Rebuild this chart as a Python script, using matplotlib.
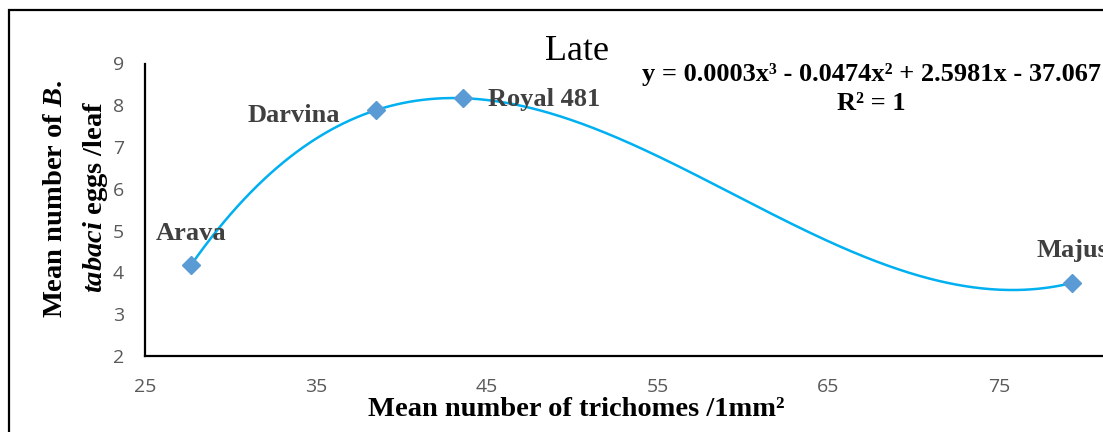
import numpy as np
import matplotlib
matplotlib.use("Agg")
import matplotlib.pyplot as plt
from matplotlib.patches import Rectangle

# Data
varieties = ["Arava", "Darvina", "Royal 481", "Majus"]
trichomes = [27.7, 38.5, 43.6, 79.3]
eggs = [4.18, 7.88, 8.17, 3.75]
x_ticks = [25, 35, 45, 55, 65, 75]
y_ticks = [2, 3, 4, 5, 6, 7, 8, 9]
title = "Late"
equation = "y = 0.0003x³ - 0.0474x² + 2.5981x - 37.067"
r2_text = "R² = 1"

W, H = 1103, 432
fig = plt.figure(figsize=(W / 100, H / 100), dpi=100)

# outer border (cropped at right/bottom)
fig.patches.append(Rectangle((9 / W, -0.1), 1.2, (H - 10) / H + 0.1,
                             transform=fig.transFigure, fill=False,
                             edgecolor="black", linewidth=1.6))

ax_left, ax_bottom_px, ax_top_px = 145, 356, 63.5
ax = fig.add_axes([ax_left / W, (H - ax_bottom_px) / H,
                   (W - ax_left) / W, (ax_bottom_px - ax_top_px) / H])
ax.set_facecolor("none")
px_per_unit = (999 - 145) / 50
ax.set_xlim(25, 25 + (W - ax_left) / px_per_unit)
ax.set_ylim(2, 9)

# cubic trendline through the points
coef = np.polyfit(trichomes, eggs, 3)
xs = np.linspace(min(trichomes), max(trichomes), 400)
ax.plot(xs, np.polyval(coef, xs), color="#00B0F0", linewidth=1.8, zorder=2)
ax.plot(trichomes, eggs, linestyle="none", marker="D", markersize=9,
        color="#5B9BD5", zorder=3)

for s in ["top", "right"]:
    ax.spines[s].set_visible(False)
for s in ["left", "bottom"]:
    ax.spines[s].set_linewidth(1.6)
    ax.spines[s].set_color("black")

ax.set_xticks(x_ticks)
ax.set_yticks(y_ticks)
ax.tick_params(axis="both", length=0, labelsize=14, labelcolor="#595959")
ax.tick_params(axis="x", pad=16)
ax.tick_params(axis="y", pad=15)
for lab in ax.get_xticklabels() + ax.get_yticklabels():
    lab.set_family("Open Sans")

serif = "Liberation Serif"
lab_color = "#404040"
offsets = {"Arava": (0, 31, "center"), "Darvina": (-36, -5, "right"),
           "Royal 481": (25, -1, "left"), "Majus": (0, 32, "center")}
for name, x, y in zip(varieties, trichomes, eggs):
    dx, dy, ha = offsets[name]
    ax.annotate(name, (x, y), xytext=(dx, dy), textcoords="offset pixels",
                ha=ha, va="center", fontsize=19, fontweight="bold",
                family=serif, color=lab_color)

fig.text(577 / W, 1 - 52 / H, title, ha="center", va="center",
         fontsize=26, family=serif, color="black")
fig.text(871 / W, 1 - 74 / H, equation, ha="center", va="center",
         fontsize=19, fontweight="bold", family=serif)
fig.text(871 / W, 1 - 104 / H, r2_text, ha="center", va="center",
         fontsize=19, fontweight="bold", family=serif)

fig.text(576 / W, 1 - 409 / H, "Mean number of trichomes /1mm²",
         ha="center", va="center", fontsize=20.5, fontweight="bold", family=serif)

plt.rcParams["mathtext.fontset"] = "custom"
plt.rcParams["mathtext.rm"] = "Liberation Serif:bold"
plt.rcParams["mathtext.it"] = "Liberation Serif:italic:bold"
plt.rcParams["mathtext.bf"] = "Liberation Serif:bold"
fig.text(56 / W, 1 - 199 / H, r"Mean number of $\mathit{B.}$",
         rotation=90, ha="center", va="center", fontsize=20.5,
         fontweight="bold", family=serif)
fig.text(95 / W, 1 - 197 / H, r"$\mathit{tabaci}$ eggs /leaf",
         rotation=90, ha="center", va="center", fontsize=20.5,
         fontweight="bold", family=serif)

fig.savefig("out.png", dpi=100)
